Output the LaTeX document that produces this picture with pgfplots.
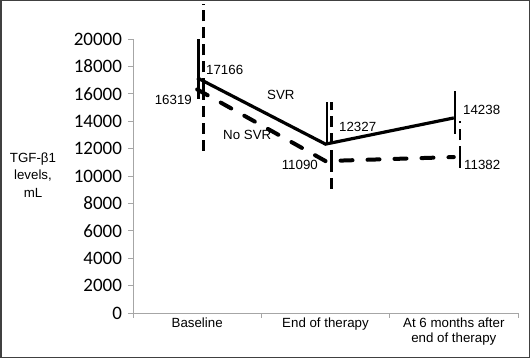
\documentclass[border=0pt]{standalone}
\usepackage{fontspec}
\setmainfont{Liberation Sans}
\newfontfamily\carlito{Carlito}
\usepackage{pgfplots}
\pgfplotsset{compat=1.18}
\begin{document}
\begin{tikzpicture}
\useasboundingbox (0bp,0bp) rectangle (530bp,358bp);
\begin{axis}[
  at={(133bp,45bp)}, anchor=south west,
  scale only axis, width=385bp, height=274bp,
  xmin=-0.5, xmax=2.5, ymin=0, ymax=20000,
  clip=false,
  axis x line=bottom, axis y line=left,
  axis line style={-, draw=gray!70, line width=0.8bp},
  tick align=outside, major tick length=5bp,
  tick style={draw=gray!70, line width=0.8bp},
  xtick={-0.5,0.5,1.5,2.5}, xticklabels={,,,},
  extra x ticks={0,1,2},
  extra x tick labels={Baseline, End of therapy, {At 6 months after\\end of therapy}},
  extra x tick style={major tick length=0pt},
  xticklabel style={align=center, font=\fontsize{13.3bp}{15bp}\selectfont, yshift=-1bp},
  ytick={0,2000,...,20000},
  scaled y ticks=false,
  yticklabel style={font=\carlito\fontsize{19bp}{21bp}\selectfont, xshift=-2.5bp,
    /pgf/number format/fixed, /pgf/number format/1000 sep={},
    /pgf/number format/assume math mode=true},
]
% SVR
\addplot[black, line width=3.2bp] coordinates {(0,17166) (1,12327) (2,14238)};
% No SVR
\addplot[black, line width=4bp, line cap=round, dash pattern=on 12bp off 15bp] coordinates {(0,16319) (1,11090) (2,11382)};
% SVR error bars
\addplot[draw=none, error bars/.cd, y dir=both, y explicit, error mark=none,
  error bar style={draw=black, line width=2.2bp, solid}]
  coordinates {(0.01,17166) += (0,2841) -= (0,1551)
               (1.01,12327) += (0,3069) -= (0,0)
               (2.01,14238) += (0,1963) -= (0,1185)};
% No SVR error bars
\addplot[draw=none, error bars/.cd, y dir=both, y explicit, error mark=none,
  error bar style={draw=black, line width=2.7bp, dash pattern=on 11bp off 6bp}]
  coordinates {(0.048,16319) += (0,6251) -= (0,4877)
               (1.048,11090) += (0,4306) -= (0,2283)
               (2.048,11382) += (0,2623) -= (0,1038)};
\end{axis}
\begin{scope}[every node/.style={inner sep=0pt, font=\fontsize{13.3bp}{15bp}\selectfont}]
\node[anchor=west] at (206bp,288bp) {17166};
\node[anchor=east] at (192bp,258bp) {16319};
\node[anchor=west] at (267bp,263bp) {SVR};
\node[anchor=west] at (223bp,223bp) {No SVR};
\node[anchor=west] at (339bp,231bp) {12327};
\node[anchor=east] at (318bp,193bp) {11090};
\node[anchor=west] at (463bp,248bp) {14238};
\node[anchor=west] at (464bp,193bp) {11382};
\node[align=center, font=\fontsize{13.3bp}{17.5bp}\selectfont] at (33bp,183bp) {TGF-β1\\levels,\\mL};
\end{scope}
\draw[line width=1.5bp, draw=black!75] (0.75bp,0.75bp) rectangle (529.25bp,357.25bp);
\end{tikzpicture}
\end{document}
